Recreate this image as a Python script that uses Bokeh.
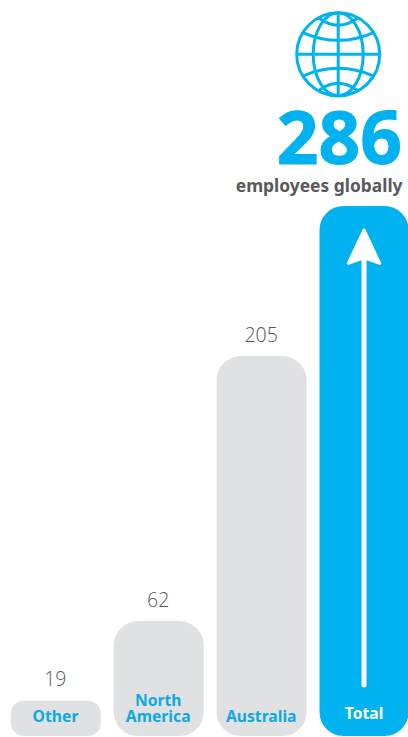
from bokeh.core.properties import value
from bokeh.embed import file_html
from bokeh.models import Range1d
from bokeh.plotting import figure
from bokeh.resources import INLINE

regions = ["Other", "North America", "Australia", "Total"]
employees = [19, 62, 205, 286]
value_labels = ["19", "62", "205"]
headline = "286"
caption = "employees globally"

BLUE = "#00B3F0"
LABEL_BLUE = "#0FA9E0"
GREY = "#E0E1E3"
TEXT = "#58595B"

W, H = 408, 737
base_px, px_per_emp = 735.5, 530 / 286
first_bar, bar_step, bar_w = 55.3, 102.9, 90

p = figure(width=W, height=H, toolbar_location=None, output_backend="svg",
           x_range=Range1d(-first_bar / bar_step, (W - first_bar) / bar_step),
           y_range=Range1d(-(H - base_px) / px_per_emp, base_px / px_per_emp),
           min_border=0, outline_line_color=None)
p.axis.visible = False
p.grid.visible = False
p.background_fill_color = "white"
p.border_fill_color = "white"

# Pixel-space ranges for the globe, arrow and other annotation furniture
p.extra_x_ranges["px"] = Range1d(0, W)
p.extra_y_ranges["px"] = Range1d(H, 0)
px = dict(x_range_name="px", y_range_name="px")

# Bars
radii = [13, 24, 24, 24]
for i, (n, r) in enumerate(zip(employees, radii)):
    p.vbar(x=[i], top=[n], bottom=[0], width=bar_w / bar_step,
           fill_color=BLUE if regions[i] == "Total" else GREY,
           line_color=None, border_radius=r)

# Values above the grey bars
p.text(x=[0, 1, 2], y=employees[:3], text=value_labels, text_align="center",
       text_baseline="middle", y_offset=-22, x_offset=-0.5, text_color=TEXT,
       text_font=value("Open Sans Light"), text_font_size="19.5px")

# Category labels inside the bars
label_font = dict(text_font=value("Noto Sans"), text_font_style="bold",
                  text_font_size="15.7px", text_align="center", text_baseline="middle", **px)
p.text(x=[55], y=[715.5], text=["Other"], text_color=LABEL_BLUE, **label_font)
p.text(x=[157.7], y=[699.5], text=["North"], text_color=LABEL_BLUE, **label_font)
p.text(x=[157.7], y=[715.5], text=["America"], text_color=LABEL_BLUE, **label_font)
p.text(x=[260.7], y=[715.5], text=["Australia"], text_color=LABEL_BLUE, **label_font)
p.text(x=[363.5], y=[712.5], text=["Total"], text_color="white", **label_font)

# Arrow up the total bar
p.line(x=[363.5, 363.5], y=[684.5, 250], line_color="white", line_width=5, line_cap="round", **px)
p.patch(x=[363.5, 379.2, 363.5, 347.8], y=[229.5, 262.8, 257.3, 262.8], fill_color="white",
        line_color="white", line_width=3, line_join="round", **px)

# Headline, thickened with an outline of its own colour
p.text(x=[401.5], y=[137], text=[headline], text_color=BLUE, outline_color=BLUE, text_align="right",
       text_baseline="middle", text_font=value("Noto Sans"), text_font_style="bold",
       text_font_size="73px", **px)
p.text(x=[402], y=[184], text=[caption], text_color=TEXT, text_align="right",
       text_baseline="middle", text_font=value("Noto Sans"), text_font_style="bold",
       text_font_size="17.4px", **px)

# Globe
cx, cy, R = 337.7, 53.8, 41.5
stroke = dict(line_color=BLUE, line_width=3, **px)
p.ellipse(x=[cx], y=[cy], width=[2 * R], height=[2 * R], fill_color=None, **stroke)
p.ellipse(x=[cx], y=[cy], width=[50], height=[2 * R], fill_color=None, **stroke)
p.segment(x0=[cx], y0=[cy - R], x1=[cx], y1=[cy + R], **stroke)
p.segment(x0=[cx - R], y0=[cy], x1=[cx + R], y1=[cy], **stroke)
for sign in (-1, 1):
    p.quadratic(x0=[cx - 36], y0=[cy + sign * 22], x1=[cx + 36], y1=[cy + sign * 22],
                cx=[cx], cy=[cy + sign * 6], **stroke)
    p.quadratic(x0=[cx - 19], y0=[cy + sign * 36], x1=[cx + 19], y1=[cy + sign * 36],
                cx=[cx], cy=[cy + sign * 22], **stroke)

open("out.html", "w").write(file_html(p, INLINE))
